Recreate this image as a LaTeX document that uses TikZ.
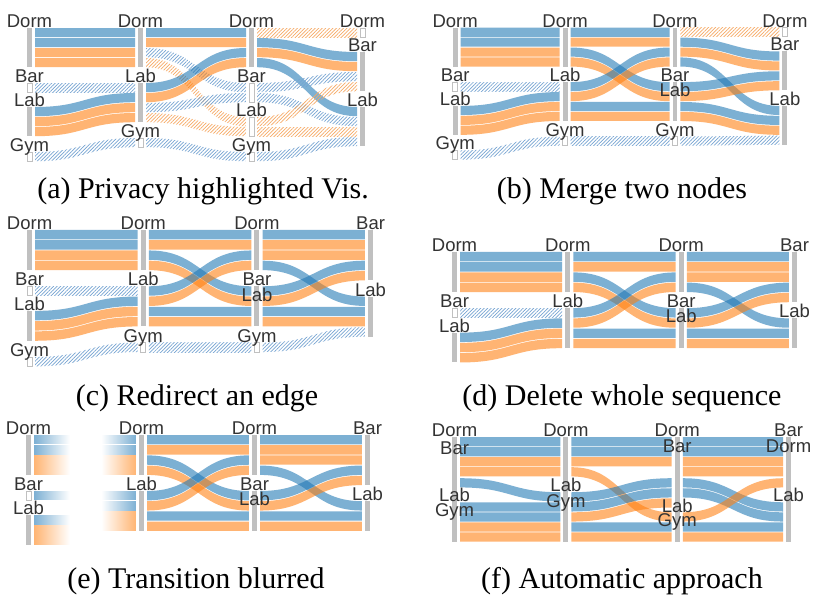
\documentclass[tikz,border=0pt]{standalone}
\usepackage{fontspec}
\setmainfont{Liberation Serif}
\setsansfont{Liberation Sans}
\usepackage{tikz}
\usetikzlibrary{patterns.meta}
\definecolor{flowblue}{RGB}{31,119,180}
\definecolor{floworange}{RGB}{255,127,14}
\definecolor{bargray}{RGB}{192,192,192}
\definecolor{labelgray}{RGB}{51,51,51}
\definecolor{hatchblue}{RGB}{118,164,210}
\definecolor{hatchorange}{RGB}{247,170,102}

% flow band from column #1 to column #1+1, top edge y #2 -> y #3
\newcommand{\band}[4]{%
  \pgfmathsetmacro\xa{35+111*(#1-1)}%
  \pgfmathsetmacro\xb{\xa+100}%
  \pgfmathsetmacro\xm{\xa+50}%
  \fill[#4] (\xa,#2) .. controls (\xm,#2) and (\xm,#3) .. (\xb,#3)
    -- (\xb,#3+9.2) .. controls (\xm,#3+9.2) and (\xm,#2+9.2) .. (\xa,#2+9.2) -- cycle;}
% node bar in column #1 from y #2 to y #3
\newcommand{\nodebar}[4]{\path[#4] ({27+111*(#1-1)},#2) rectangle ({32+111*(#1-1)},#3);}
% node label
\newcommand{\nodelabel}[4]{\node[lbl] (#1) at ({29.5+111*(#2-1)},#3-0.5) {#4};}
% blurred stubs
\newcommand{\stubout}[2]{\shade[left color=#2, right color=white] (35,#1) rectangle (70,#1+8.8);}
\newcommand{\stubin}[2]{\shade[left color=white, right color=#2] (101,#1) rectangle (135,#1+8.8);}

\begin{document}
\begin{tikzpicture}[
    x=1pt, y=-1pt,
    bar/.style={fill=bargray},
    hollow/.style={fill=white, draw=bargray, line width=0.9pt},
    blueband/.style={fill=flowblue, fill opacity=0.58},
    orangeband/.style={fill=floworange, fill opacity=0.58},
    blueprivate/.style={pattern={Lines[angle=45,distance=2.5pt,line width=0.7pt]}, pattern color=hatchblue},
    orangeprivate/.style={pattern={Lines[angle=45,distance=2.5pt,line width=0.7pt]}, pattern color=hatchorange},
    lbl/.style={font=\sffamily\fontsize{18.5}{19}\selectfont, text=labelgray, anchor=base, inner sep=0pt},
    subcap/.style={font=\fontsize{30}{32}\selectfont, anchor=base, inner sep=0pt}
]
\fill[white] (0,0) rectangle (814,605);
\useasboundingbox (0,0) rectangle (814,605);

% (a) Privacy highlighted
\begin{scope}
\band{1}{28}{28}{blueband}
\band{1}{38}{38}{blueband}
\band{1}{48}{48}{orangeband}
\band{1}{58}{58}{orangeband}
\band{1}{83}{83}{blueprivate}
\band{1}{107}{93}{blueband}
\band{1}{117}{103}{orangeband}
\band{1}{127}{113}{orangeband}
\band{1}{152}{138}{blueprivate}
\band{2}{28}{28}{blueband}
\band{2}{38}{38}{orangeband}
\band{2}{48}{83}{blueprivate}
\band{2}{58}{117}{orangeprivate}
\band{2}{83}{48}{blueband}
\band{2}{93}{58}{orangeband}
\band{2}{103}{93}{blueprivate}
\band{2}{113}{127}{orangeprivate}
\band{2}{138}{152}{blueprivate}
\band{3}{28}{28}{orangeprivate}
\band{3}{38}{52}{blueband}
\band{3}{48}{62}{orangeband}
\band{3}{58}{107}{blueband}
\band{3}{83}{72}{blueprivate}
\band{3}{93}{117}{blueprivate}
\band{3}{117}{82}{orangeprivate}
\band{3}{127}{127}{orangeprivate}
\band{3}{152}{137}{blueprivate}
\nodebar{1}{28}{67.2}{bar}
\nodebar{1}{83}{92.2}{hollow}
\nodebar{1}{107}{136.2}{bar}
\nodebar{1}{152}{161.2}{hollow}
\nodebar{2}{28}{67.2}{bar}
\nodebar{2}{83}{122.2}{bar}
\nodebar{2}{138}{147.2}{hollow}
\nodebar{3}{28}{67.2}{bar}
\nodebar{3}{83}{102.2}{hollow}
\nodebar{3}{117}{136.2}{hollow}
\nodebar{3}{152}{161.2}{hollow}
\nodebar{4}{28}{37.2}{hollow}
\nodebar{4}{52}{91.2}{bar}
\nodebar{4}{107}{146.2}{bar}
\nodelabel{a1dorm}{1}{28}{Dorm}
\nodelabel{a1bar}{1}{83}{Bar}
\nodelabel{a1lab}{1}{107}{Lab}
\nodelabel{a1gym}{1}{152}{Gym}
\nodelabel{a2dorm}{2}{28}{Dorm}
\nodelabel{a2lab}{2}{83}{Lab}
\nodelabel{a2gym}{2}{138}{Gym}
\nodelabel{a3dorm}{3}{28}{Dorm}
\nodelabel{a3bar}{3}{83}{Bar}
\nodelabel{a3lab}{3}{117}{Lab}
\nodelabel{a3gym}{3}{152}{Gym}
\nodelabel{a4dorm}{4}{28}{Dorm}
\nodelabel{a4bar}{4}{52}{Bar}
\nodelabel{a4lab}{4}{107}{Lab}
\end{scope}

% (b) Merge two nodes
\begin{scope}[shift={(426,0)}, scale=0.99]
\band{1}{28}{28}{blueband}
\band{1}{38}{38}{blueband}
\band{1}{48}{48}{orangeband}
\band{1}{58}{58}{orangeband}
\band{1}{83}{83}{blueprivate}
\band{1}{107}{93}{blueband}
\band{1}{117}{103}{orangeband}
\band{1}{127}{113}{orangeband}
\band{1}{152}{138}{blueprivate}
\band{2}{28}{28}{blueband}
\band{2}{38}{38}{orangeband}
\band{2}{48}{83}{blueband}
\band{2}{58}{93}{orangeband}
\band{2}{83}{48}{blueband}
\band{2}{93}{58}{orangeband}
\band{2}{103}{103}{blueband}
\band{2}{113}{113}{orangeband}
\band{2}{138}{138}{blueprivate}
\band{3}{28}{28}{orangeprivate}
\band{3}{38}{52}{blueband}
\band{3}{48}{62}{orangeband}
\band{3}{58}{107}{blueband}
\band{3}{83}{72}{blueband}
\band{3}{93}{82}{orangeband}
\band{3}{103}{117}{blueband}
\band{3}{113}{127}{orangeband}
\band{3}{138}{137}{blueprivate}
\nodebar{1}{28}{67.2}{bar}
\nodebar{1}{83}{92.2}{hollow}
\nodebar{1}{107}{136.2}{bar}
\nodebar{1}{152}{161.2}{hollow}
\nodebar{2}{28}{67.2}{bar}
\nodebar{2}{83}{122.2}{bar}
\nodebar{2}{138}{147.2}{hollow}
\nodebar{3}{28}{67.2}{bar}
\nodebar{3}{83}{122.2}{bar}
\nodebar{3}{138}{147.2}{hollow}
\nodebar{4}{28}{37.2}{hollow}
\nodebar{4}{52}{91.2}{bar}
\nodebar{4}{107}{146.2}{bar}
\nodelabel{b1dorm}{1}{28}{Dorm}
\nodelabel{b1bar}{1}{83}{Bar}
\nodelabel{b1lab}{1}{107}{Lab}
\nodelabel{b1gym}{1}{152}{Gym}
\nodelabel{b2dorm}{2}{28}{Dorm}
\nodelabel{b2lab}{2}{83}{Lab}
\nodelabel{b2gym}{2}{138}{Gym}
\nodelabel{b3dorm}{3}{28}{Dorm}
\nodelabel{b3bar}{3}{83}{Bar}
\nodelabel{b3lab}{3}{98}{Lab}
\nodelabel{b3gym}{3}{138}{Gym}
\nodelabel{b4dorm}{4}{28}{Dorm}
\nodelabel{b4bar}{4}{52}{Bar}
\nodelabel{b4lab}{4}{107}{Lab}
\end{scope}

% (c) Redirect an edge
\begin{scope}[shift={(-0.6,201.3)}, scale=1.024]
\band{1}{28}{28}{blueband}
\band{1}{38}{38}{blueband}
\band{1}{48}{48}{orangeband}
\band{1}{58}{58}{orangeband}
\band{1}{83}{83}{blueprivate}
\band{1}{107}{93}{blueband}
\band{1}{117}{103}{orangeband}
\band{1}{127}{113}{orangeband}
\band{1}{152}{138}{blueprivate}
\band{2}{28}{28}{blueband}
\band{2}{38}{38}{orangeband}
\band{2}{48}{83}{blueband}
\band{2}{58}{93}{orangeband}
\band{2}{83}{48}{blueband}
\band{2}{93}{58}{orangeband}
\band{2}{103}{103}{blueband}
\band{2}{113}{113}{orangeband}
\band{2}{138}{138}{blueprivate}
\band{3}{28}{28}{blueband}
\band{3}{38}{38}{orangeband}
\band{3}{48}{48}{orangeband}
\band{3}{58}{93}{blueband}
\band{3}{83}{58}{blueband}
\band{3}{93}{68}{orangeband}
\band{3}{103}{103}{blueband}
\band{3}{113}{113}{orangeband}
\band{3}{138}{123}{blueprivate}
\nodebar{1}{28}{67.2}{bar}
\nodebar{1}{83}{92.2}{hollow}
\nodebar{1}{107}{136.2}{bar}
\nodebar{1}{152}{161.2}{hollow}
\nodebar{2}{28}{67.2}{bar}
\nodebar{2}{83}{122.2}{bar}
\nodebar{2}{138}{147.2}{hollow}
\nodebar{3}{28}{67.2}{bar}
\nodebar{3}{83}{122.2}{bar}
\nodebar{3}{138}{147.2}{hollow}
\nodebar{4}{28}{77.2}{bar}
\nodebar{4}{93}{132.2}{bar}
\nodelabel{c1dorm}{1}{28}{Dorm}
\nodelabel{c1bar}{1}{83}{Bar}
\nodelabel{c1lab}{1}{107}{Lab}
\nodelabel{c1gym}{1}{152}{Gym}
\nodelabel{c2dorm}{2}{28}{Dorm}
\nodelabel{c2lab}{2}{83}{Lab}
\nodelabel{c2gym}{2}{138}{Gym}
\nodelabel{c3dorm}{3}{28}{Dorm}
\nodelabel{c3bar}{3}{83}{Bar}
\nodelabel{c3lab}{3}{98}{Lab}
\nodelabel{c3gym}{3}{138}{Gym}
\nodelabel{c4bar}{4}{28}{Bar}
\nodelabel{c4lab}{4}{93}{Lab}
\end{scope}

% (d) Delete whole sequence
\begin{scope}[shift={(424.4,223.4)}, scale=1.021]
\band{1}{28}{28}{blueband}
\band{1}{38}{38}{blueband}
\band{1}{48}{48}{orangeband}
\band{1}{58}{58}{orangeband}
\band{1}{83}{83}{blueprivate}
\band{1}{107}{93}{blueband}
\band{1}{117}{103}{orangeband}
\band{1}{127}{113}{orangeband}
\band{2}{28}{28}{blueband}
\band{2}{38}{38}{orangeband}
\band{2}{48}{83}{blueband}
\band{2}{58}{93}{orangeband}
\band{2}{83}{48}{blueband}
\band{2}{93}{58}{orangeband}
\band{2}{103}{103}{blueband}
\band{2}{113}{113}{orangeband}
\band{3}{28}{28}{blueband}
\band{3}{38}{38}{orangeband}
\band{3}{48}{48}{orangeband}
\band{3}{58}{93}{blueband}
\band{3}{83}{58}{blueband}
\band{3}{93}{68}{orangeband}
\band{3}{103}{103}{blueband}
\band{3}{113}{113}{orangeband}
\nodebar{1}{28}{67.2}{bar}
\nodebar{1}{83}{92.2}{hollow}
\nodebar{1}{107}{136.2}{bar}
\nodebar{2}{28}{67.2}{bar}
\nodebar{2}{83}{122.2}{bar}
\nodebar{3}{28}{67.2}{bar}
\nodebar{3}{83}{122.2}{bar}
\nodebar{4}{28}{77.2}{bar}
\nodebar{4}{93}{122.2}{bar}
\nodelabel{d1dorm}{1}{28}{Dorm}
\nodelabel{d1bar}{1}{83}{Bar}
\nodelabel{d1lab}{1}{107}{Lab}
\nodelabel{d2dorm}{2}{28}{Dorm}
\nodelabel{d2lab}{2}{83}{Lab}
\nodelabel{d3dorm}{3}{28}{Dorm}
\nodelabel{d3bar}{3}{83}{Bar}
\nodelabel{d3lab}{3}{98}{Lab}
\nodelabel{d4bar}{4}{28}{Bar}
\nodelabel{d4lab}{4}{93}{Lab}
\end{scope}

% (e) Transition blurred
\begin{scope}[shift={(-1.5,406.5)}, scale=1.018]
\stubout{28}{flowblue!58!white}
\stubout{38}{flowblue!58!white}
\stubout{48}{floworange!58!white}
\stubout{58}{floworange!58!white}
\stubout{83}{flowblue!58!white}
\stubout{107}{flowblue!58!white}
\stubout{117}{floworange!58!white}
\stubout{127}{floworange!58!white}
\stubin{28}{flowblue!58!white}
\stubin{38}{flowblue!58!white}
\stubin{48}{floworange!58!white}
\stubin{58}{floworange!58!white}
\stubin{83}{flowblue!58!white}
\stubin{93}{flowblue!58!white}
\stubin{103}{floworange!58!white}
\stubin{113}{floworange!58!white}
\band{2}{28}{28}{blueband}
\band{2}{38}{38}{orangeband}
\band{2}{48}{83}{blueband}
\band{2}{58}{93}{orangeband}
\band{2}{83}{48}{blueband}
\band{2}{93}{58}{orangeband}
\band{2}{103}{103}{blueband}
\band{2}{113}{113}{orangeband}
\band{3}{28}{28}{blueband}
\band{3}{38}{38}{orangeband}
\band{3}{48}{48}{orangeband}
\band{3}{58}{93}{blueband}
\band{3}{83}{58}{blueband}
\band{3}{93}{68}{orangeband}
\band{3}{103}{103}{blueband}
\band{3}{113}{113}{orangeband}
\nodebar{1}{28}{67.2}{bar}
\nodebar{1}{83}{92.2}{hollow}
\nodebar{1}{107}{136.2}{bar}
\nodebar{2}{28}{67.2}{bar}
\nodebar{2}{83}{122.2}{bar}
\nodebar{3}{28}{67.2}{bar}
\nodebar{3}{83}{122.2}{bar}
\nodebar{4}{28}{77.2}{bar}
\nodebar{4}{93}{122.2}{bar}
\nodelabel{e1dorm}{1}{28}{Dorm}
\nodelabel{e1bar}{1}{83}{Bar}
\nodelabel{e1lab}{1}{107}{Lab}
\nodelabel{e2dorm}{2}{28}{Dorm}
\nodelabel{e2lab}{2}{83}{Lab}
\nodelabel{e3dorm}{3}{28}{Dorm}
\nodelabel{e3bar}{3}{83}{Bar}
\nodelabel{e3lab}{3}{98}{Lab}
\nodelabel{e4bar}{4}{28}{Bar}
\nodelabel{e4lab}{4}{93}{Lab}
\end{scope}

% (f) Automatic approach
\begin{scope}[shift={(425,409)}, scale=1.003]
\band{1}{28}{28}{blueband}
\band{1}{38}{38}{blueband}
\band{1}{48}{48}{orangeband}
\band{1}{58}{58}{orangeband}
\band{1}{69}{83}{blueband}
\band{1}{93}{93}{blueband}
\band{1}{103}{103}{blueband}
\band{1}{113}{113}{orangeband}
\band{1}{123}{123}{orangeband}
\band{2}{28}{28}{blueband}
\band{2}{38}{38}{blueband}
\band{2}{48}{48}{orangeband}
\band{2}{58}{103}{orangeband}
\band{2}{83}{69}{blueband}
\band{2}{93}{79}{blueband}
\band{2}{103}{89}{orangeband}
\band{2}{113}{113}{blueband}
\band{2}{123}{123}{orangeband}
\band{3}{28}{28}{blueband}
\band{3}{38}{38}{blueband}
\band{3}{48}{48}{orangeband}
\band{3}{58}{58}{orangeband}
\band{3}{69}{93}{blueband}
\band{3}{79}{103}{blueband}
\band{3}{103}{69}{orangeband}
\band{3}{113}{113}{blueband}
\band{3}{123}{123}{orangeband}
\nodebar{1}{28}{132.2}{bar}
\nodebar{2}{28}{132.2}{bar}
\nodebar{3}{28}{132.2}{bar}
\nodebar{4}{28}{132.2}{bar}
\nodelabel{f1dorm}{1}{28}{Dorm}
\nodelabel{f1bar}{1}{45.5}{Bar}
\nodelabel{f1lab}{1}{93}{Lab}
\nodelabel{f1gym}{1}{108}{Gym}
\nodelabel{f2dorm}{2}{28}{Dorm}
\nodelabel{f2lab}{2}{83}{Lab}
\nodelabel{f2gym}{2}{98.5}{Gym}
\nodelabel{f3dorm}{3}{28}{Dorm}
\nodelabel{f3bar}{3}{44}{Bar}
\nodelabel{f3lab}{3}{103.5}{Lab}
\nodelabel{f3gym}{3}{118}{Gym}
\nodelabel{f4bar}{4}{28}{Bar}
\nodelabel{f4dorm}{4}{44}{Dorm}
\nodelabel{f4lab}{4}{93}{Lab}
\end{scope}

% Captions
\node[subcap] (capa) at (203,198) {(a) Privacy highlighted Vis.};
\node[subcap] (capb) at (622,198) {(b) Merge two nodes};
\node[subcap] (capc) at (197,405) {(c) Redirect an edge};
\node[subcap] (capd) at (622,405) {(d) Delete whole sequence};
\node[subcap] (cape) at (196,588) {(e) Transition blurred};
\node[subcap] (capf) at (622,588) {(f) Automatic approach};
\end{tikzpicture}
\end{document}
